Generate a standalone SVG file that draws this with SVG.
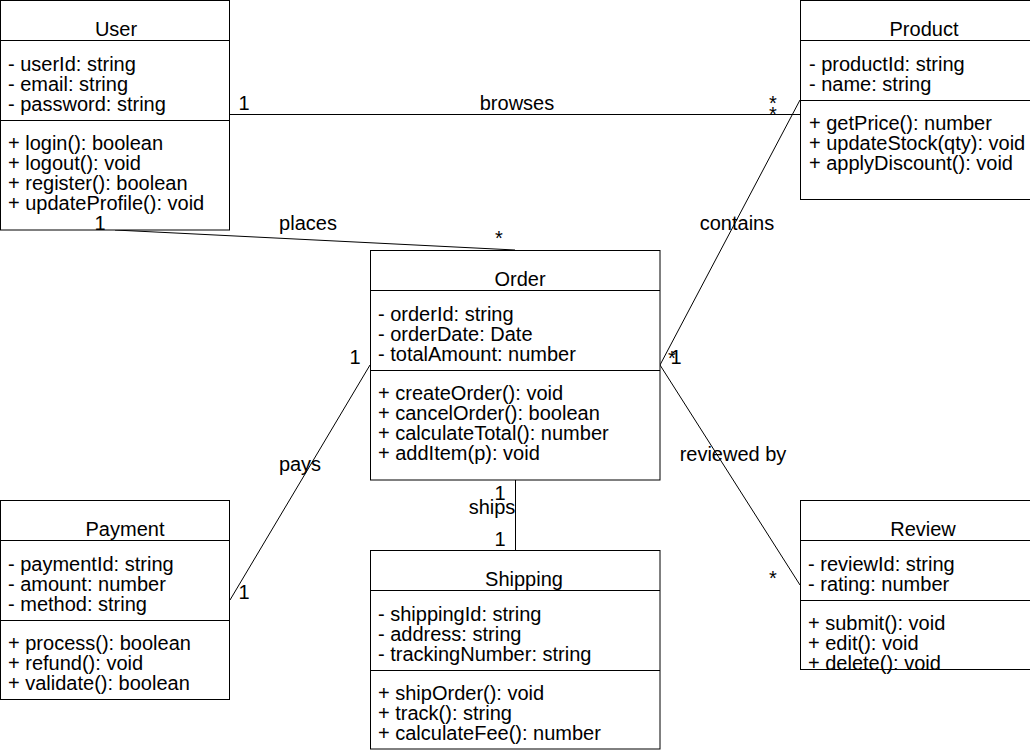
<svg xmlns="http://www.w3.org/2000/svg" width="1030" height="750" viewBox="0 0 1030 750">
<style>
text{font-family:"Liberation Sans",Arial,Helvetica,sans-serif;font-size:20px;fill:#000}
.t{text-anchor:middle}
.box{fill:#fff;stroke:#000;stroke-width:1}
.sep{stroke:#000;stroke-width:1}
.conn line{stroke:#000;stroke-width:1}
.lbl{text-anchor:middle}
</style>
<rect width="1030" height="750" fill="#fff"/>
<g id="connectors" class="conn">
<line x1="230" y1="114.5" x2="800" y2="114.5"/>
<line x1="115" y1="230" x2="515" y2="250"/>
<line x1="370" y1="365" x2="230" y2="600"/>
<line x1="660" y1="365" x2="800" y2="100"/>
<line x1="660" y1="365" x2="800" y2="585"/>
<line x1="515.5" y1="480" x2="515.5" y2="550"/>
</g>
<g id="User">
<rect class="box" x="0.5" y="0.5" width="229" height="229.5"/>
<line class="sep" x1="0" y1="40.5" x2="230" y2="40.5"/>
<line class="sep" x1="0" y1="120.5" x2="230" y2="120.5"/>
<text class="t" x="116" y="36">User</text>
<text x="8" y="70.5">- userId: string</text>
<text x="8" y="90.5">- email: string</text>
<text x="8" y="110.5">- password: string</text>
<text x="8" y="150">+ login(): boolean</text>
<text x="8" y="170">+ logout(): void</text>
<text x="8" y="190">+ register(): boolean</text>
<text x="8" y="210">+ updateProfile(): void</text>
</g>
<g id="Product">
<rect class="box" x="800.5" y="0.5" width="250" height="199"/>
<line class="sep" x1="800" y1="40.5" x2="1050" y2="40.5"/>
<line class="sep" x1="800" y1="100.5" x2="1050" y2="100.5"/>
<text class="t" x="924" y="36">Product</text>
<text x="809" y="70.5">- productId: string</text>
<text x="809" y="90.5">- name: string</text>
<text x="809" y="130">+ getPrice(): number</text>
<text x="809" y="150">+ updateStock(qty): void</text>
<text x="809" y="170">+ applyDiscount(): void</text>
</g>
<g id="Order">
<rect class="box" x="370.5" y="250.5" width="289.5" height="229.5"/>
<line class="sep" x1="370" y1="290.5" x2="660" y2="290.5"/>
<line class="sep" x1="370" y1="370.5" x2="660" y2="370.5"/>
<text class="t" x="520" y="286">Order</text>
<text x="378" y="320.5">- orderId: string</text>
<text x="378" y="340.5">- orderDate: Date</text>
<text x="378" y="360.5">- totalAmount: number</text>
<text x="378" y="400">+ createOrder(): void</text>
<text x="378" y="420">+ cancelOrder(): boolean</text>
<text x="378" y="440">+ calculateTotal(): number</text>
<text x="378" y="460">+ addItem(p): void</text>
</g>
<g id="Payment">
<rect class="box" x="0.5" y="500.5" width="229" height="199"/>
<line class="sep" x1="0" y1="540.5" x2="230" y2="540.5"/>
<line class="sep" x1="0" y1="620.5" x2="230" y2="620.5"/>
<text class="t" x="125" y="536">Payment</text>
<text x="8" y="570.5">- paymentId: string</text>
<text x="8" y="590.5">- amount: number</text>
<text x="8" y="610.5">- method: string</text>
<text x="8" y="650">+ process(): boolean</text>
<text x="8" y="670">+ refund(): void</text>
<text x="8" y="690">+ validate(): boolean</text>
</g>
<g id="Shipping">
<rect class="box" x="370.5" y="550.5" width="289.5" height="198.5"/>
<line class="sep" x1="370" y1="590.5" x2="660" y2="590.5"/>
<line class="sep" x1="370" y1="670.5" x2="660" y2="670.5"/>
<text class="t" x="524" y="586">Shipping</text>
<text x="378" y="620.5">- shippingId: string</text>
<text x="378" y="640.5">- address: string</text>
<text x="378" y="660.5">- trackingNumber: string</text>
<text x="378" y="700">+ shipOrder(): void</text>
<text x="378" y="720">+ track(): string</text>
<text x="378" y="740">+ calculateFee(): number</text>
</g>
<g id="Review">
<rect class="box" x="800.5" y="500.5" width="250" height="169"/>
<line class="sep" x1="800" y1="540.5" x2="1050" y2="540.5"/>
<line class="sep" x1="800" y1="600.5" x2="1050" y2="600.5"/>
<text class="t" x="923" y="536">Review</text>
<text x="808" y="570.5">- reviewId: string</text>
<text x="808" y="590.5">- rating: number</text>
<text x="808" y="630">+ submit(): void</text>
<text x="808" y="650">+ edit(): void</text>
<text x="808" y="670">+ delete(): void</text>
<line class="sep" x1="800" y1="669.5" x2="1050" y2="669.5"/>
</g>
<g id="labels">
<text class="lbl" x="517" y="110">browses</text>
<text class="lbl" x="244" y="110">1</text>
<text class="lbl" x="773" y="110">*</text>
<text class="lbl" x="773" y="121">*</text>
<text class="lbl" x="308" y="230">places</text>
<text class="lbl" x="100" y="230">1</text>
<text class="lbl" x="499" y="245">*</text>
<text class="lbl" x="300" y="471">pays</text>
<text class="lbl" x="355" y="364">1</text>
<text class="lbl" x="244" y="599">1</text>
<text class="lbl" x="737" y="230">contains</text>
<text class="lbl" x="672" y="365">*</text>
<text class="lbl" x="676" y="364">1</text>
<text class="lbl" x="733" y="461">reviewed by</text>
<text class="lbl" x="773" y="585">*</text>
<text class="lbl" x="500" y="500">1</text>
<text class="lbl" x="492" y="514">ships</text>
<text class="lbl" x="500" y="546">1</text>
</g>
</svg>
